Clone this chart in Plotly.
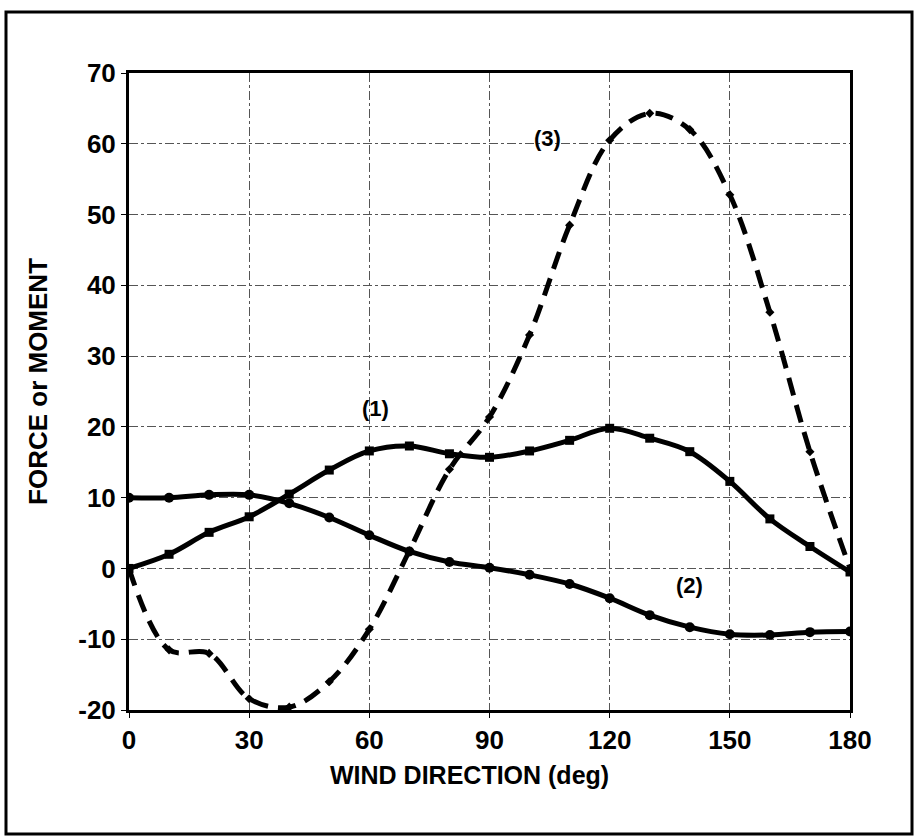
import plotly.graph_objects as go

wind_dir = [0, 10, 20, 30, 40, 50, 60, 70, 80, 90, 100, 110, 120, 130, 140, 150, 160, 170, 180]
series1 = [0, 2.0, 5.1, 7.3, 10.5, 13.9, 16.6, 17.3, 16.2, 15.7, 16.6, 18.1, 19.8, 18.4, 16.5, 12.3, 7.0, 3.1, -0.5]
series2 = [10.0, 10.0, 10.4, 10.4, 9.2, 7.2, 4.7, 2.4, 0.9, 0.1, -0.9, -2.2, -4.2, -6.6, -8.3, -9.3, -9.4, -9.0, -8.9]
series3 = [0, -11.5, -12.0, -18.4, -19.6, -16.0, -8.6, 2.5, 14.0, 21.4, 33.0, 48.5, 60.5, 64.3, 62.0, 52.8, 36.2, 16.5, 0]
labels = ["(1)", "(2)", "(3)"]
label_x = [61.5, 140, 104.5]
label_y = [22.6, -2.4, 60.8]
y_ticks = [-20, -10, 0, 10, 20, 30, 40, 50, 60, 70]
x_ticks = [0, 30, 60, 90, 120, 150, 180]
x_title = "WIND DIRECTION (deg)"
y_title = "FORCE or MOMENT"

FONT = "Liberation Sans, Arial, sans-serif"

fig = go.Figure()
fig.add_trace(go.Scatter(x=wind_dir, y=series3, mode="lines+markers",
                         line=dict(color="black", width=5, shape="spline", dash="18px,10px"),
                         marker=dict(symbol="diamond", size=7, color="black"), name="(3)"))
fig.add_trace(go.Scatter(x=wind_dir, y=series1, mode="lines+markers",
                         line=dict(color="black", width=5, shape="spline"),
                         marker=dict(symbol="square", size=9, color="black"), name="(1)"))
fig.add_trace(go.Scatter(x=wind_dir, y=series2, mode="lines+markers",
                         line=dict(color="black", width=5, shape="spline"),
                         marker=dict(symbol="circle", size=10, color="black"), name="(2)"))

for t, xx, yy in zip(labels, label_x, label_y):
    fig.add_annotation(x=xx, y=yy, text="<b>" + t + "</b>", showarrow=False,
                       font=dict(family=FONT, size=22, color="black"))

fig.add_annotation(xref="paper", yref="paper", x=0.4716, y=-0.102, text="<b>" + x_title + "</b>",
                   showarrow=False, xanchor="center", yanchor="middle",
                   font=dict(family=FONT, size=25, color="black"))
fig.add_annotation(xref="paper", yref="paper", x=-0.1262, y=0.515, text="<b>" + y_title + "</b>",
                   showarrow=False, xanchor="center", yanchor="middle", textangle=-90,
                   font=dict(family=FONT, size=26, color="black"))

fig.add_shape(type="rect", xref="paper", yref="paper",
              x0=-0.1706, x1=1.086, y0=-0.1947, y1=1.0958,
              line=dict(color="black", width=3))

fig.update_layout(
    width=915, height=836,
    margin=dict(l=129, r=65, t=73, b=126),
    paper_bgcolor="white", plot_bgcolor="white",
    showlegend=False,
    font=dict(family=FONT, color="black"),
)
fig.update_xaxes(range=[0, 180], tickvals=x_ticks, ticktext=["<b>%d</b>" % v for v in x_ticks],
                 tickfont=dict(family=FONT, size=26, color="black"),
                 showline=True, linecolor="black", linewidth=3, mirror=True,
                 showgrid=True, gridcolor="#555", gridwidth=1, griddash="dashdot",
                 ticks="outside", ticklen=5, tickcolor="black", zeroline=False)
fig.update_yaxes(range=[-20, 70], tickvals=y_ticks, ticktext=["<b>%d</b>" % v for v in y_ticks],
                 tickfont=dict(family=FONT, size=26, color="black"),
                 showline=True, linecolor="black", linewidth=3, mirror=True,
                 showgrid=True, gridcolor="#555", gridwidth=1, griddash="dashdot",
                 ticks="outside", ticklen=5, tickcolor="black", zeroline=False)

fig.write_html("out.html", config={"displayModeBar": False},
               post_script="document.body.style.margin='0';")
